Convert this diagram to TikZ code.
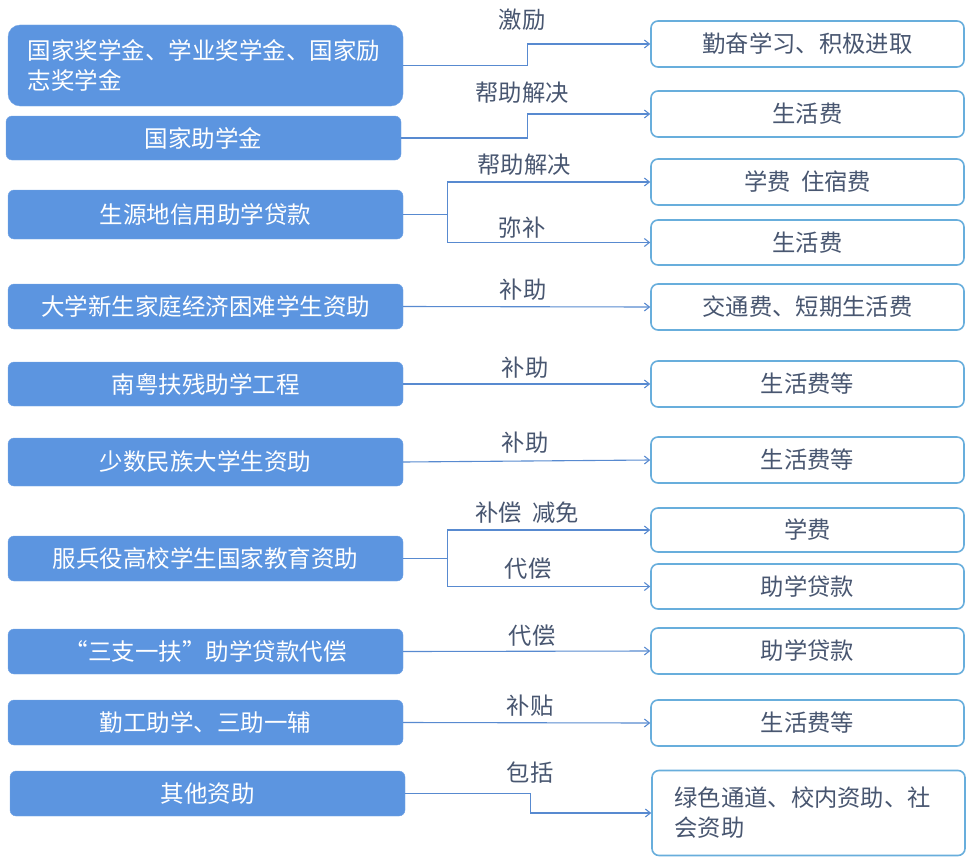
\documentclass[tikz,border=0pt]{standalone}
\usepackage{fontspec}
\setmainfont{Noto Sans CJK SC}
\usetikzlibrary{arrows.meta}
\definecolor{aidblue}{RGB}{92,149,224}
\definecolor{goalline}{RGB}{104,174,220}
\definecolor{linkblue}{RGB}{88,138,208}
\definecolor{labelgray}{RGB}{72,86,112}

\tikzset{
  aidbox/.style={fill=aidblue, draw=aidblue!85!white, rounded corners=6pt,
    text=white, minimum width=395pt, minimum height=45pt, inner sep=0pt,
    font=\fontsize{23.5}{30}\selectfont},
  goalbox/.style={draw=goalline, line width=1.6pt, fill=white, rounded corners=7pt,
    text=labelgray, minimum width=313pt, minimum height=46pt, inner sep=0pt,
    font=\fontsize{23.3}{30}\selectfont},
  link/.style={draw=linkblue, line width=1.1pt},
  tag/.style={text=labelgray, inner sep=0pt, font=\fontsize{23.3}{26}\selectfont}
}

\begin{document}
\begin{tikzpicture}[x=1pt,y=-1pt,>={Straight Barb[length=5pt,width=8pt]}]
        \useasboundingbox (0,0) rectangle (974,867);

        % aid programmes on the left
        \node[aidbox, minimum height=81pt, rounded corners=12pt, text width=356pt, align=left]
              (a1) at (205.5,65.5) {国家奖学金、学业奖学金、国家励\\志奖学金};
        \node[aidbox, minimum height=44pt] (a2)  at (203.5,138)   {国家助学金};
        \node[aidbox, minimum height=49pt] (a3)  at (205.5,214.5) {生源地信用助学贷款};
        \node[aidbox] (a4)  at (205.5,306.5) {大学新生家庭经济困难学生资助};
        \node[aidbox, minimum height=44pt] (a5)  at (205.5,384)   {南粤扶残助学工程};
        \node[aidbox, minimum height=48pt] (a6)  at (205.5,462)   {少数民族大学生资助};
        \node[aidbox] (a7)  at (205.5,558.5) {服兵役高校学生国家教育资助};
        \node[aidbox] (a8)  at (205.5,651.5) {“三支一扶”助学贷款代偿};
        \node[aidbox] (a9)  at (205.5,722.5) {勤工助学、三助一辅};
        \node[aidbox] (a10) at (207.5,793.5) {其他资助};

        % what they cover, on the right
        \node[goalbox] (g1)  at (807.5,44)    {勤奋学习、积极进取};
        \node[goalbox] (g2)  at (807.5,114)   {生活费};
        \node[goalbox] (g3)  at (807.5,182)   {学费\ \ 住宿费};
        \node[goalbox, minimum height=45pt] (g4)  at (807.5,242.5) {生活费};
        \node[goalbox] (g5)  at (807.5,307)   {交通费、短期生活费};
        \node[goalbox] (g6)  at (807.5,384)   {生活费等};
        \node[goalbox] (g7)  at (807.5,460)   {生活费等};
        \node[goalbox, minimum height=44pt] (g8)  at (807.5,530)   {学费};
        \node[goalbox, minimum height=45pt] (g9)  at (807.5,586.5) {助学贷款};
        \node[goalbox] (g10) at (807.5,651)   {助学贷款};
        \node[goalbox] (g11) at (807.5,723)   {生活费等};
        \node[goalbox, minimum height=85pt, text width=268pt, align=left]
              (g12) at (808.5,813) {绿色通道、校内资助、社\\会资助};

        % stepped connectors
        \draw[link,->] (a1.east) -- ++(124,0) |- (g1.west);
        \draw[link,->] (a2.east) -- ++(126,0) |- (g2.west);
        \draw[link,->] (a10.east) -- ++(125,0) |- (g12.west);

        % forked connectors
        \draw[link] (a3.east) -- ++(44,0) coordinate (f3);
        \draw[link,->] (f3) |- (g3.west);
        \draw[link,->] (f3) |- (g4.west);
        \draw[link] (a7.east) -- ++(44,0) coordinate (f7);
        \draw[link,->] (f7) |- (g8.west);
        \draw[link,->] (f7) |- (g9.west);

        % straight connectors
        \foreach \a/\g in {a4/g5,a5/g6,a6/g7,a8/g10,a9/g11}
                \draw[link,->] (\a.east) -- (\g.west);

        % labels over the connectors
        \node[tag] (t1)  at (522,20)  {激励};
        \node[tag] (t2)  at (522,93)  {帮助解决};
        \node[tag] (t3)  at (524,165) {帮助解决};
        \node[tag] (t4)  at (522,228) {弥补};
        \node[tag] (t5)  at (523,290) {补助};
        \node[tag] (t6)  at (525,368) {补助};
        \node[tag] (t7)  at (525,443) {补助};
        \node[tag] (t8)  at (527,513) {补偿\ \ 减免};
        \node[tag] (t9)  at (528,569) {代偿};
        \node[tag] (t10) at (532,636) {代偿};
        \node[tag] (t11) at (530,706) {补贴};
        \node[tag] (t12) at (530,773) {包括};
\end{tikzpicture}
\end{document}
